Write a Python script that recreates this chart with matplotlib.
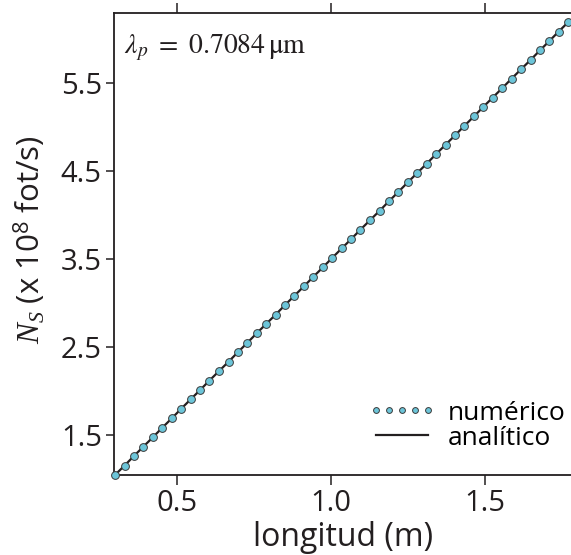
import matplotlib
matplotlib.use("Agg")
import matplotlib.pyplot as plt
from matplotlib.lines import Line2D

plt.rcParams['font.family'] = ['Open Sans', 'DejaVu Sans']
plt.rcParams['mathtext.fontset'] = 'custom'
plt.rcParams['mathtext.rm'] = 'Open Sans'
plt.rcParams['mathtext.it'] = 'Liberation Serif:italic'

# longitud (m) y N_S (x 1e8 fot/s)
longitud = [0.300, 0.331, 0.361, 0.392, 0.423, 0.453, 0.484, 0.514, 0.545, 0.576,
            0.606, 0.637, 0.668, 0.698, 0.729, 0.759, 0.790, 0.821, 0.851, 0.882,
            0.913, 0.943, 0.974, 1.004, 1.035, 1.066, 1.096, 1.127, 1.158, 1.188,
            1.219, 1.249, 1.280, 1.311, 1.341, 1.372, 1.403, 1.433, 1.464, 1.494,
            1.525, 1.556, 1.586, 1.617, 1.648, 1.678, 1.709, 1.739, 1.770]
ns_numerico = [1.050, 1.157, 1.264, 1.372, 1.479, 1.586, 1.693, 1.800, 1.908, 2.015,
               2.122, 2.229, 2.336, 2.443, 2.551, 2.658, 2.765, 2.872, 2.979, 3.087,
               3.194, 3.301, 3.408, 3.515, 3.623, 3.730, 3.837, 3.944, 4.051, 4.158,
               4.266, 4.373, 4.480, 4.587, 4.694, 4.802, 4.909, 5.016, 5.123, 5.230,
               5.338, 5.445, 5.552, 5.659, 5.766, 5.873, 5.981, 6.088, 6.195]
ns_analitico = ns_numerico

xticks = [0.5, 1.0, 1.5]
yticks = [1.5, 2.5, 3.5, 4.5, 5.5]

dark = '#231f20'
cyan = '#6cc5d9'

fig = plt.figure(figsize=(5.71, 5.55), dpi=100)
ax = fig.add_axes([0.2002, 0.1441, 0.7998, 0.8330])

ax.plot(longitud, ns_analitico, color=dark, lw=1.6, zorder=2)
ax.plot(longitud, ns_numerico, ls='none', marker='o', ms=5.6, mfc=cyan,
        mec='#3a3a3a', mew=0.7, zorder=3, clip_on=False)

ax.set_xlim(0.2976, 1.779)
ax.set_ylim(1.049, 6.302)
ax.set_xticks(xticks)
ax.set_xticklabels(['0.5', '1.0', '1.5'])
ax.set_yticks(yticks)
ax.set_yticklabels(['1.5', '2.5', '3.5', '4.5', '5.5'])

for s in ['left', 'bottom', 'top']:
    ax.spines[s].set_color(dark)
    ax.spines[s].set_linewidth(1.3)
ax.spines['right'].set_visible(False)
ax.tick_params(axis='x', direction='out', top=True, length=7, width=1.1,
               color=dark, labelsize=21, pad=3, labelcolor=dark)
ax.tick_params(axis='y', direction='out', right=False, length=6, width=1.1,
               color=dark, labelsize=21, pad=3, labelcolor=dark)

ax.set_xlabel('longitud (m)', fontsize=23, color=dark, va='center')
ax.xaxis.set_label_coords(0.5, -0.135)
ax.set_ylabel(r'$N_S$ (x 10$^{8}$ fot/s)', fontsize=22.5, color=dark)
ax.yaxis.set_label_coords(-0.145, 0.51)

ax.text(0.022, 0.925, r'$\lambda_p\ =\ 0.7084\,\mathrm{\mu m}$', transform=ax.transAxes,
        fontsize=20, math_fontfamily='stix', color=dark, va='center', ha='left')

handles = [Line2D([], [], ls='none', marker='o', ms=5.6, mfc=cyan, mec='#3a3a3a', mew=0.7),
           Line2D([], [], color=dark, lw=1.6)]
ax.legend(handles, ['numérico', 'analítico'], loc='lower right', frameon=False,
          numpoints=5, markerscale=0.75, fontsize=19, handlelength=2.6,
          handletextpad=0.45, labelspacing=0.0, borderaxespad=0.0,
          bbox_to_anchor=(1.012, 0.03))

fig.savefig('out.png', dpi=100)
